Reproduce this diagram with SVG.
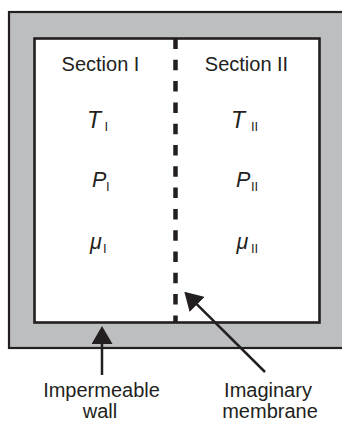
<svg xmlns="http://www.w3.org/2000/svg" width="342" height="422" viewBox="0 0 342 422">
<style>
.t{font-family:"Liberation Sans",Arial,sans-serif;font-size:20px;fill:#231f20}
.m{text-anchor:middle}
.i{font-style:italic;font-size:21.5px}
.big{font-size:23px}
.s{font-family:"Liberation Sans",Arial,sans-serif;font-size:13px;fill:#231f20}
.c{stroke:#231f20;stroke-width:2.5;fill:none}
</style>
<defs>
<marker id="ah" viewBox="0 0 18 21" refX="8" refY="10.5" markerWidth="18" markerHeight="21" markerUnits="userSpaceOnUse" orient="auto">
<path d="M0,0 L18,10.5 L0,21 Z" fill="#231f20"/>
</marker>
</defs>
<g id="wall">
<rect x="9" y="12" width="345" height="336" fill="#bcbec0" stroke="#231f20" stroke-width="2.2"/>
</g>
<g id="chamber">
<rect x="34.5" y="38.5" width="285" height="284" fill="#ffffff" stroke="#231f20" stroke-width="2.6"/>
</g>
<g id="membrane">
<line x1="175.5" y1="38.5" x2="175.5" y2="322.5" stroke="#231f20" stroke-width="4.5" stroke-dasharray="10.5 10.8"/>
</g>
<g id="section1">
<text class="t m" x="100.5" y="71">Section I</text>
<text class="t i big" x="87" y="128">T</text><text class="s" x="104.5" y="131">I</text>
<text class="t i" x="92" y="187">P</text><text class="s" x="106" y="191">I</text>
<text class="t i" x="90" y="249">μ</text><text class="s" x="103" y="253">I</text>
</g>
<g id="section2">
<text class="t m" x="246.5" y="71">Section II</text>
<text class="t i big" x="231" y="128">T</text><text class="s" x="251" y="131">II</text>
<text class="t i" x="236" y="187">P</text><text class="s" x="251" y="191">II</text>
<text class="t i" x="236.5" y="249">μ</text><text class="s" x="251" y="253">II</text>
</g>
<g id="label-wall">
<text class="t m" x="101.5" y="397">Impermeable</text>
<text class="t m" x="100" y="418">wall</text>
</g>
<g id="label-membrane">
<text class="t m" x="268" y="397">Imaginary</text>
<text class="t m" x="270" y="418">membrane</text>
</g>
<g id="connectors">
<line class="c" x1="102" y1="375" x2="102" y2="336" marker-end="url(#ah)"/>
<line class="c" x1="265" y1="372" x2="191.4" y2="298.8" marker-end="url(#ah)"/>
</g>
</svg>
